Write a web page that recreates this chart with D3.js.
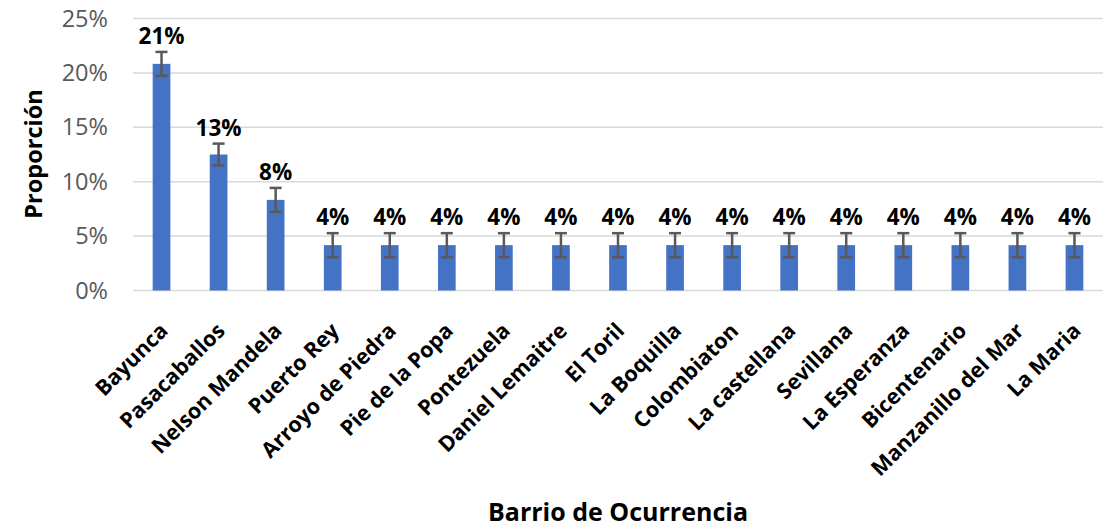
<!DOCTYPE html>
<html>
<head>
<meta charset="utf-8">
<script src="https://cdn.jsdelivr.net/npm/d3@7"></script>
<style>
  body { margin: 0; background: #fff; }
  svg { font-family: "Open Sans", sans-serif; }
</style>
</head>
<body>
<div id="vis"></div>
<script>
const CATEGORIES = ["Bayunca", "Pasacaballos", "Nelson Mandela", "Puerto Rey", "Arroyo de Piedra",
  "Pie de la Popa", "Pontezuela", "Daniel Lemaitre", "El Toril", "La Boquilla", "Colombiaton",
  "La castellana", "Sevillana", "La Esperanza", "Bicentenario", "Manzanillo del Mar", "La Maria"];
const VALUES = [0.2083, 0.125, 0.0833, 0.0417, 0.0417, 0.0417, 0.0417, 0.0417, 0.0417,
  0.0417, 0.0417, 0.0417, 0.0417, 0.0417, 0.0417, 0.0417, 0.0417];
const ERRORS = [0.011, 0.010, 0.011, 0.011, 0.011, 0.011, 0.011, 0.011, 0.011,
  0.011, 0.011, 0.011, 0.011, 0.011, 0.011, 0.011, 0.011];
const Y_TICKS = [0, 0.05, 0.10, 0.15, 0.20, 0.25];

const FRAME_WIDTH = 1110;
const FRAME_HEIGHT = 530;
const MARGINS = { left: 133, right: 7, top: 18.5, bottom: 239.5 };
const VIS_WIDTH = FRAME_WIDTH - MARGINS.left - MARGINS.right;
const VIS_HEIGHT = FRAME_HEIGHT - MARGINS.top - MARGINS.bottom;

const svg = d3.select("#vis").append("svg")
  .attr("width", FRAME_WIDTH)
  .attr("height", FRAME_HEIGHT);

const X_SCALE = d3.scaleBand().domain(CATEGORIES).range([0, VIS_WIDTH]).paddingInner(0.69).paddingOuter(0.345);
const Y_SCALE = d3.scaleLinear().domain([0, 0.25]).range([VIS_HEIGHT, 0]);

const g = svg.append("g").attr("transform", "translate(" + MARGINS.left + "," + MARGINS.top + ")");

// gridlines
g.selectAll(".grid")
  .data(Y_TICKS)
  .enter()
  .append("line")
  .attr("x1", 0)
  .attr("x2", VIS_WIDTH)
  .attr("y1", (d) => Y_SCALE(d))
  .attr("y2", (d) => Y_SCALE(d))
  .attr("stroke", "#d9d9d9")
  .attr("stroke-width", 1.5);

// y axis labels
const yAxis = g.append("g")
  .call(d3.axisLeft(Y_SCALE).tickValues(Y_TICKS).tickFormat(d3.format(".0%")).tickSize(0).tickPadding(25));
yAxis.select(".domain").remove();
yAxis.selectAll("text")
  .attr("font-family", "Open Sans, sans-serif")
  .attr("font-size", "23.5px")
  .attr("fill", "#595959");

// bars
g.selectAll(".bar")
  .data(CATEGORIES)
  .enter()
  .append("rect")
  .attr("x", (d) => X_SCALE(d))
  .attr("y", (d, i) => Y_SCALE(VALUES[i]))
  .attr("width", X_SCALE.bandwidth())
  .attr("height", (d, i) => VIS_HEIGHT - Y_SCALE(VALUES[i]))
  .attr("fill", "#4472c4");

// error bars
const eb = g.selectAll(".err")
  .data(CATEGORIES)
  .enter()
  .append("g")
  .attr("stroke", "#595959")
  .attr("stroke-width", 2.5);
eb.append("line")
  .attr("x1", (d) => X_SCALE(d) + X_SCALE.bandwidth() / 2)
  .attr("x2", (d) => X_SCALE(d) + X_SCALE.bandwidth() / 2)
  .attr("y1", (d, i) => Y_SCALE(VALUES[i] + ERRORS[i]))
  .attr("y2", (d, i) => Y_SCALE(VALUES[i] - ERRORS[i]));
[1, -1].forEach((s) => {
  eb.append("line")
    .attr("x1", (d) => X_SCALE(d) + X_SCALE.bandwidth() / 2 - 6)
    .attr("x2", (d) => X_SCALE(d) + X_SCALE.bandwidth() / 2 + 6)
    .attr("y1", (d, i) => Y_SCALE(VALUES[i] + s * ERRORS[i]))
    .attr("y2", (d, i) => Y_SCALE(VALUES[i] + s * ERRORS[i]));
});

// value labels
g.selectAll(".lbl")
  .data(CATEGORIES)
  .enter()
  .append("text")
  .attr("x", (d) => X_SCALE(d) + X_SCALE.bandwidth() / 2)
  .attr("y", (d, i) => Y_SCALE(VALUES[i] + ERRORS[i]) - 8)
  .attr("text-anchor", "middle")
  .attr("font-size", "22.5px")
  .attr("font-weight", "bold")
  .attr("fill", "#000")
  .text((d, i) => d3.format(".0%")(VALUES[i]));

// x category labels
g.selectAll(".cat")
  .data(CATEGORIES)
  .enter()
  .append("text")
  .attr("transform", (d) => "translate(" + (X_SCALE(d) + X_SCALE.bandwidth() / 2 - 3) + "," + (VIS_HEIGHT + 31) + ") rotate(-45)")
  .attr("text-anchor", "end")
  .attr("dy", "0.7em")
  .attr("font-size", "21.5px")
  .attr("font-weight", "bold")
  .attr("fill", "#000")
  .text((d) => d);

// axis titles
svg.append("text")
  .attr("transform", "translate(42,154) rotate(-90)")
  .attr("text-anchor", "middle")
  .attr("font-size", "23.5px")
  .attr("font-weight", "bold")
  .attr("fill", "#000")
  .text("Proporción");

svg.append("text")
  .attr("x", 618)
  .attr("y", 521)
  .attr("text-anchor", "middle")
  .attr("font-size", "25px")
  .attr("font-weight", "bold")
  .attr("fill", "#000")
  .text("Barrio de Ocurrencia");
</script>
</body>
</html>
